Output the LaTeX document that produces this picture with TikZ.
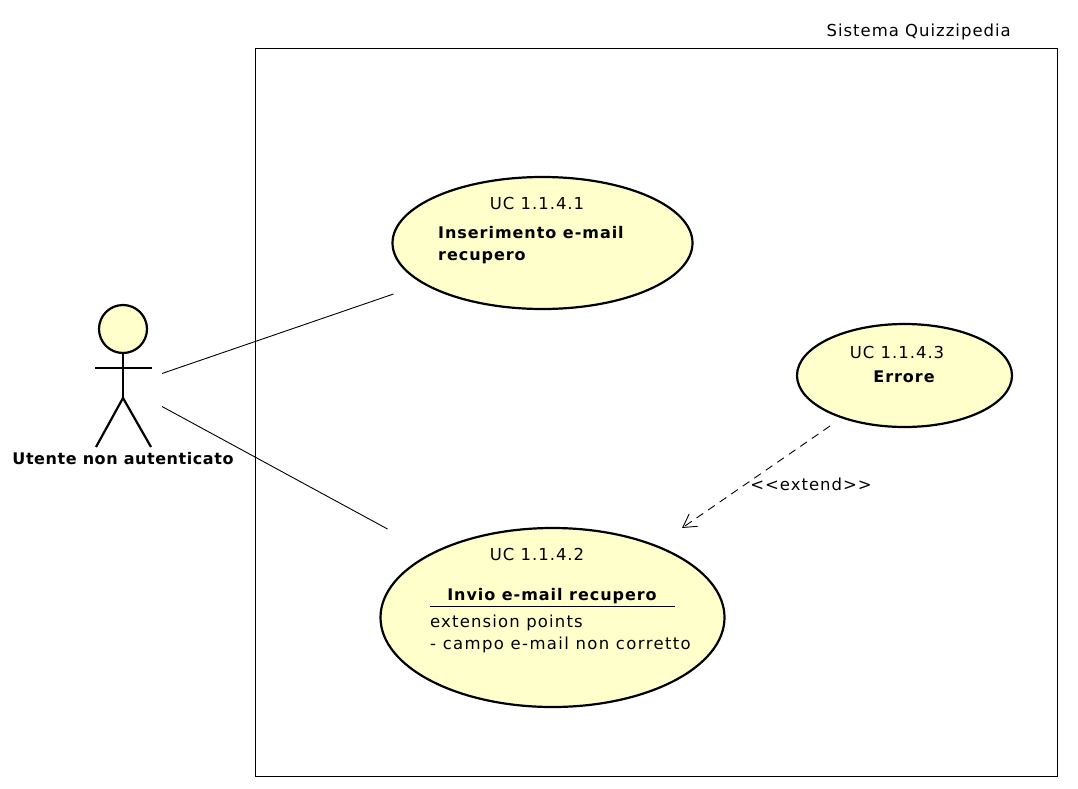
\documentclass[tikz,border=0pt]{standalone}
\usepackage{fontspec}
\setmainfont[LetterSpace=6]{DejaVu Sans}
\usetikzlibrary{arrows.meta,shapes.geometric}
\definecolor{ucfill}{HTML}{FFFFCC}
\tikzset{
  usecase/.style={draw=black,line width=2.2pt,fill=ucfill,ellipse,inner sep=0pt,outer sep=0pt},
  lab/.style={font=\fontsize{16.5}{19}\selectfont,inner sep=0pt,text=black},
  labb/.style={font=\fontsize{16}{19}\selectfont\bfseries,inner sep=0pt,text=black},
  limb/.style={line width=2.2pt,draw=black},
  assoc/.style={line width=0.9pt,draw=black},
}
\begin{document}
\begin{tikzpicture}[x=1pt,y=-1pt]
\useasboundingbox (0,0) rectangle (1078,789);
\node[draw=black,line width=0.9pt,minimum width=802pt,minimum height=728pt,inner sep=0pt,outer sep=0pt] (sys) at (656.5,412.5) {};
\node[lab,anchor=base east] (systitle) at (1011,37) {Sistema Quizzipedia};

\node[usecase,minimum width=300pt,minimum height=132pt] (uc1) at (542.5,243) {};
\node[usecase,minimum width=215pt,minimum height=103pt] (uc3) at (904.5,375.5) {};
\node[usecase,minimum width=344pt,minimum height=179pt] (uc2) at (552.5,617.5) {};

\node[lab,anchor=base] (uc1id) at (537,209.5) {UC 1.1.4.1};
\node[labb,anchor=base west] (uc1a) at (438,238.5) {Inserimento e-mail};
\node[labb,anchor=base west] (uc1b) at (438,260.5) {recupero};

\node[lab,anchor=base] (uc3id) at (897,358.5) {UC 1.1.4.3};
\node[labb,anchor=base] (uc3a) at (904,382.5) {Errore};

\node[lab,anchor=base] (uc2id) at (537,560.5) {UC 1.1.4.2};
\node[labb,anchor=base] (uc2a) at (552,600.5) {Invio e-mail recupero};
\coordinate (rulea) at (430,606.5);
\coordinate (ruleb) at (675,606.5);
\draw[assoc] (rulea) -- (ruleb);
\node[lab,anchor=base west] (uc2b) at (430,627.5) {\addfontfeature{LetterSpace=7}extension points};
\node[lab,anchor=base west] (uc2c) at (430,649.5) {\addfontfeature{LetterSpace=8.3}- campo e-mail non corretto};

% actor
\node[circle,draw=black,line width=2.2pt,fill=ucfill,minimum size=48pt,inner sep=0pt,outer sep=0pt] (head) at (123,329) {};
\coordinate (armL) at (95,368);
\coordinate (armR) at (152,368);
\coordinate (hip) at (123,398);
\coordinate (footL) at (96,447);
\coordinate (footR) at (151,447);
\draw[limb] (head.south) -- (hip);
\draw[limb] (armL) -- (armR);
\draw[limb,line join=round] (footL) -- (hip) -- (footR);
\node[labb,anchor=base] (actor) at (123,464.5) {\addfontfeature{LetterSpace=3.5}Utente non autenticato};

\coordinate (a1) at (162,373.5);
\coordinate (u1) at (393.5,294);
\coordinate (a2) at (162,406.5);
\coordinate (u2) at (387.5,529);
\draw[assoc] (a1) -- (u1);
\draw[assoc] (a2) -- (u2);

\coordinate (e1) at (830,426);
\coordinate (e2) at (682,528);
\draw[assoc,dash pattern=on 8pt off 6pt,-{Straight Barb[length=13pt,width=15pt,line width=0.9pt]}] (e1) -- (e2);
\node[lab,anchor=base] (ext) at (811,490.5) {<{}<extend>{}>};
\end{tikzpicture}
\end{document}
